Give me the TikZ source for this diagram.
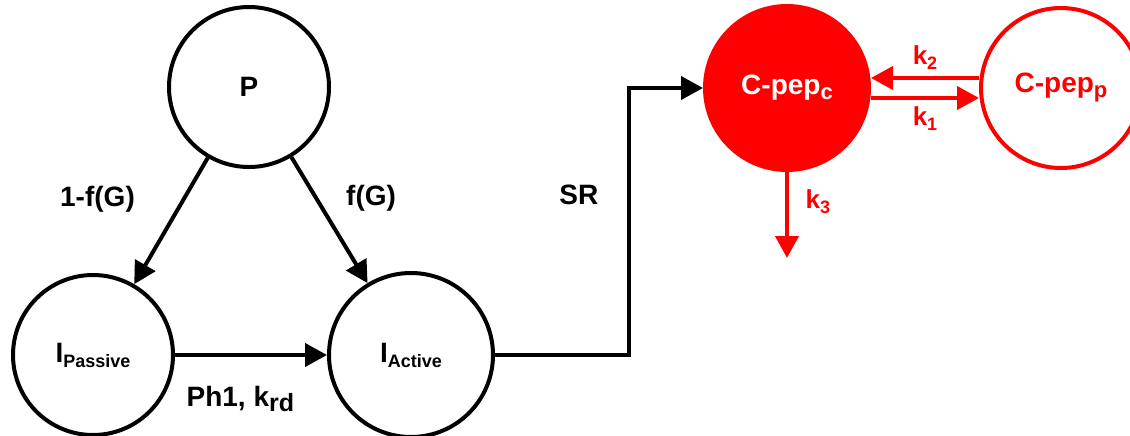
\documentclass[tikz,border=0pt]{standalone}
\usepackage{fontspec}
\setmainfont{Liberation Sans}
\usetikzlibrary{arrows.meta, positioning}
\newcommand{\lowtext}[2][9]{\raisebox{-2.5pt}{\fontsize{#1}{#1}\selectfont #2}}
\tikzset{
    state/.style={draw, circle, line width=2pt, minimum size=80pt, inner sep=0pt, font=\fontsize{14}{16}\selectfont\bfseries},
    cstate/.style={state, draw=red, text=red},
    arrow/.style={draw, -{Triangle[length=11pt, width=11.5pt]}, line width=2pt},
    redarrow/.style={arrow, color=red},
    lbl/.style={font=\fontsize{14}{16}\selectfont\bfseries},
    klbl/.style={text=red, font=\fontsize{13}{15}\selectfont\bfseries}
}
\begin{document}
\begin{tikzpicture}[x=0.5pt, y=-0.5pt]
    \useasboundingbox (0,0) rectangle (1130,435);
    \node [state] (P) at (249,87) {P};
    \node [state] (passive) at (93,355) {I\lowtext{Passive}};
    \node [state, minimum size=82pt, right=76pt of passive] (active) {I\lowtext{Active}};
    \node [state, draw=red, fill=red, text=white, minimum size=82pt] (cpepc) at (787,88) {C-pep\lowtext[11]{c}};
    \node [cstate, right=54pt of cpepc] (cpepp) {C-pep\lowtext[11]{p}};
    \coordinate (bend) at (629,355);
    \coordinate [below=43pt of cpepc.south] (sink);

    \draw [arrow] (P) -- node [pos=0.33, left=20pt, lbl] {1-f(G)} (passive);
    \draw [arrow] (P) -- node [pos=0.33, right=10.5pt, lbl] {f(G)} (active);
    \draw [arrow] (passive) -- node [pos=0.43, below=11.5pt, lbl] {Ph1, k\lowtext[12.5]{rd}} (active);
    \draw [arrow] (active.east) -- (bend) |- node [pos=0.3, left=11pt, lbl] {SR} (cpepc.west);
    \draw [redarrow] ([yshift=5pt]cpepp.west) -- node [above, klbl] {k\lowtext{2}} ([yshift=5pt]cpepc.east);
    \draw [redarrow] ([yshift=-5pt]cpepc.east) -- node [below, klbl] {k\lowtext{1}} ([yshift=-5pt]cpepp.west);
    \draw [redarrow] (cpepc.south) -- node [pos=0.35, right=5pt, klbl] {k\lowtext{3}} (sink);
\end{tikzpicture}
\end{document}
